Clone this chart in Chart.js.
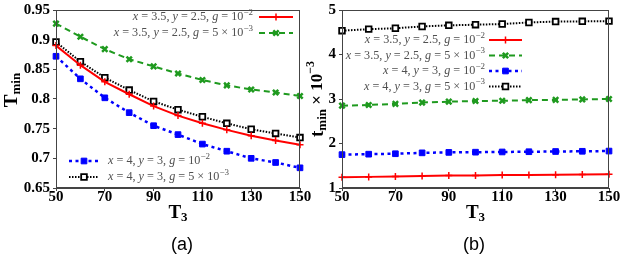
<!DOCTYPE html>
<html>
<head>
<meta charset="utf-8">
<script src="https://cdn.jsdelivr.net/npm/chart.js@4.4.1/dist/chart.umd.min.js"></script>
<style>
  body { margin: 0; background: #fff; width: 623px; height: 258px; position: relative; overflow: hidden; }
  canvas { position: absolute; top: 0; }
  #chartA { left: 0; }
  #chartB { left: 298px; }
  .cap { position: absolute; top: 234px; width: 60px; text-align: center; line-height: 20px;
         font: 18px "Liberation Sans", Arial, sans-serif; color: #000; }
</style>
</head>
<body>
<canvas id="chartA" width="315" height="258"></canvas>
<canvas id="chartB" width="325" height="258"></canvas>
<div class="cap" style="left:152px">(a)</div>
<div class="cap" style="left:444px">(b)</div>
<script>
// data
const T3 = [50, 60, 70, 80, 90, 100, 110, 120, 130, 140, 150];
const xTicks = [50, 70, 90, 110, 130, 150];

const tMinRedA   = [0.890, 0.857, 0.829, 0.808, 0.788, 0.772, 0.759, 0.748, 0.738, 0.730, 0.723];
const tMinGreenA = [0.927, 0.905, 0.884, 0.867, 0.855, 0.843, 0.832, 0.823, 0.816, 0.811, 0.805];
const tMinBlueA  = [0.872, 0.834, 0.802, 0.777, 0.755, 0.740, 0.724, 0.712, 0.700, 0.693, 0.684];
const tMinBlackA = [0.896, 0.863, 0.836, 0.815, 0.796, 0.782, 0.770, 0.759, 0.749, 0.742, 0.735];
const yTicksA = [0.65, 0.7, 0.75, 0.8, 0.85, 0.9, 0.95];

const tMinRedB   = [1.24, 1.25, 1.26, 1.27, 1.28, 1.28, 1.29, 1.29, 1.30, 1.305, 1.31];
const tMinGreenB = [2.85, 2.865, 2.89, 2.92, 2.94, 2.955, 2.96, 2.975, 2.98, 2.99, 3.00];
const tMinBlueB  = [1.75, 1.76, 1.77, 1.79, 1.80, 1.805, 1.81, 1.815, 1.82, 1.825, 1.83];
const tMinBlackB = [4.535, 4.57, 4.59, 4.63, 4.655, 4.67, 4.685, 4.72, 4.74, 4.745, 4.75];
const yTicksB = [1, 2, 3, 4, 5];

const seriesLabels = [
  "x = 3.5, y = 2.5, g = 10^{\u22122}",
  "x = 3.5, y = 2.5, g = 5 \u00d7 10^{\u22123}",
  "x = 4, y = 3, g = 10^{\u22122}",
  "x = 4, y = 3, g = 5 \u00d7 10^{\u22123}"
];

const looks = [
  { color: "#ff0000", dash: [], width: 2, point: "cross", radius: 3.5, pbw: 1.5, fill: "#ff0000" },
  { color: "#1f9a1f", dash: [6, 4], width: 2, point: "crossRot", radius: 3.8, pbw: 2.5, fill: "#1f9a1f" },
  { color: "#0000ff", dash: [3, 3.5], width: 2.5, point: "rect", radius: 4, pbw: 1, fill: "#0000ff" },
  { color: "#000000", dash: [1.5, 1.5], width: 2, point: "rect", radius: 4, pbw: 1.8, fill: "#ffffff" }
];

const SERIF = '"Liberation Serif", "Times New Roman", serif';
const tickFont = { family: SERIF, weight: "bold", size: 15, lineHeight: 1 };

function mathSegs(str, size) {
  const segs = [];
  str.split(/(\^\{[^}]*\}|[xyg])/).forEach((p) => {
    if (!p) return;
    if (p[0] === "^") segs.push({ t: p.slice(2, -1), font: `${Math.round(size * 0.72)}px ${SERIF}`, dy: -size * 0.38 });
    else if (/^[xyg]$/.test(p)) segs.push({ t: p, font: `italic ${size}px ${SERIF}`, dy: 0 });
    else segs.push({ t: p, font: `${size}px ${SERIF}`, dy: 0 });
  });
  return segs;
}

function drawSegs(ctx, segs, x, y, align) {
  let w = 0;
  segs.forEach((s) => { ctx.font = s.font; s.w = ctx.measureText(s.t).width; w += s.w; });
  let cx = align === "right" ? x - w : align === "center" ? x - w / 2 : x;
  ctx.textAlign = "left";
  ctx.textBaseline = "middle";
  segs.forEach((s) => { ctx.font = s.font; ctx.fillText(s.t, cx, y + s.dy); cx += s.w; });
}

function drawMarker(ctx, lk, x, y) {
  ctx.save();
  ctx.setLineDash([]);
  ctx.fillStyle = lk.fill;
  ctx.strokeStyle = lk.color;
  ctx.lineWidth = lk.pbw;
  Chart.helpers.drawPoint(ctx, { pointStyle: lk.point, radius: lk.radius, rotation: 0, borderWidth: lk.pbw }, x, y);
  ctx.restore();
}

function decoPlugin(cfg) {
  return {
    id: "deco",
    afterDraw(chart) {
      const ctx = chart.ctx;
      const a = chart.chartArea;
      ctx.save();
      // box around plot
      ctx.strokeStyle = "#444";
      ctx.lineWidth = 1;
      ctx.setLineDash([]);
      ctx.strokeRect(a.left + 0.5, a.top + 0.5, a.right - a.left - 1, a.bottom - a.top - 1);

      // legends
      cfg.legends.forEach((g) => {
        g.idx.forEach((k, r) => {
          const lk = looks[k];
          const y = g.y + r * g.gap;
          ctx.strokeStyle = lk.color;
          ctx.lineWidth = lk.width;
          ctx.setLineDash(lk.dash);
          ctx.beginPath();
          ctx.moveTo(g.sx, y);
          ctx.lineTo(g.ex, y);
          ctx.stroke();
          drawMarker(ctx, lk, (g.sx + g.ex) / 2, y);
          ctx.fillStyle = "#505050";
          const segs = mathSegs(seriesLabels[k], 12.2);
          if (g.text === "left") drawSegs(ctx, segs, g.sx - g.pad, y, "right");
          else drawSegs(ctx, segs, g.ex + g.pad, y, "left");
        });
      });

      // axis titles
      ctx.fillStyle = "#000";
      drawSegs(ctx, [
        { t: "T", font: `bold 19px ${SERIF}`, dy: 0 },
        { t: "3", font: `bold 13px ${SERIF}`, dy: 5 }
      ], (a.left + a.right) / 2, 213, "center");

      ctx.translate(cfg.yTitleX, (a.top + a.bottom) / 2 + cfg.yTitleShift);
      ctx.rotate(-Math.PI / 2);
      drawSegs(ctx, cfg.yTitle, 0, 0, "center");
      ctx.restore();
    }
  };
}

function makeChart(id, ys, yTicks, box, cfg) {
  const datasets = ys.map((arr, k) => {
    const lk = looks[k];
    return {
      data: T3.map((t, i) => ({ x: t, y: arr[i] })),
      borderColor: lk.color,
      borderWidth: lk.width,
      borderDash: lk.dash,
      pointStyle: lk.point,
      pointRadius: lk.radius,
      pointBorderWidth: lk.pbw,
      pointBorderColor: lk.color,
      pointBackgroundColor: lk.fill,
      tension: 0,
      clip: false
    };
  });
  return new Chart(document.getElementById(id), {
    type: "line",
    data: { datasets },
    plugins: [decoPlugin(cfg)],
    options: {
      responsive: false,
      animation: false,
      devicePixelRatio: 1,
      layout: { padding: { left: 0, right: box.right, top: 10, bottom: 258 - 188 - 40 } },
      plugins: { legend: { display: false }, tooltip: { enabled: false } },
      scales: {
        x: {
          type: "linear",
          min: T3[0],
          max: T3[T3.length - 1],
          afterBuildTicks: (s) => { s.ticks = xTicks.map((v) => ({ value: v })); },
          afterFit: (s) => { s.height = 40; s.paddingLeft = 0; s.paddingRight = 0; },
          grid: { drawOnChartArea: false, drawTicks: true, tickLength: 3, color: "#444" },
          border: { color: "#444" },
          ticks: { font: tickFont, color: "#000", padding: -1, maxRotation: 0, callback: (v) => String(v) }
        },
        y: {
          min: yTicks[0],
          max: yTicks[yTicks.length - 1],
          afterBuildTicks: (s) => { s.ticks = yTicks.map((v) => ({ value: v })); },
          afterFit: (s) => { s.width = box.left; s.paddingTop = 0; s.paddingBottom = 0; },
          grid: { drawOnChartArea: false, drawTicks: true, tickLength: 3, color: "#444" },
          border: { color: "#444" },
          ticks: { font: tickFont, color: "#000", padding: 3, callback: (v) => String(+v.toFixed(2)) }
        }
      }
    }
  });
}

makeChart("chartA", [tMinRedA, tMinGreenA, tMinBlueA, tMinBlackA], yTicksA, { left: 56, right: 15 }, {
  legends: [
    { idx: [0, 1], sx: 259, ex: 293, y: 17, gap: 16, text: "left", pad: 6 },
    { idx: [2, 3], sx: 69, ex: 99, y: 161, gap: 16, text: "right", pad: 9 }
  ],
  yTitleX: 12,
  yTitleShift: -9,
  yTitle: [
    { t: "T", font: `bold 19px ${SERIF}`, dy: 0 },
    { t: "min", font: `bold 13px ${SERIF}`, dy: 5 }
  ]
});

makeChart("chartB", [tMinRedB, tMinGreenB, tMinBlueB, tMinBlackB], yTicksB, { left: 44, right: 14 }, {
  legends: [
    { idx: [0, 1, 2, 3], sx: 191, ex: 224, y: 40, gap: 15.5, text: "left", pad: 4 }
  ],
  yTitleX: 20,
  yTitleShift: 0,
  yTitle: [
    { t: "t", font: `bold 19px ${SERIF}`, dy: 0 },
    { t: "min", font: `bold 13px ${SERIF}`, dy: 5 },
    { t: " \u00d7 10", font: `bold 17px ${SERIF}`, dy: 0 },
    { t: "\u22123", font: `bold 12px ${SERIF}`, dy: -7 }
  ]
});
</script>
</body>
</html>
